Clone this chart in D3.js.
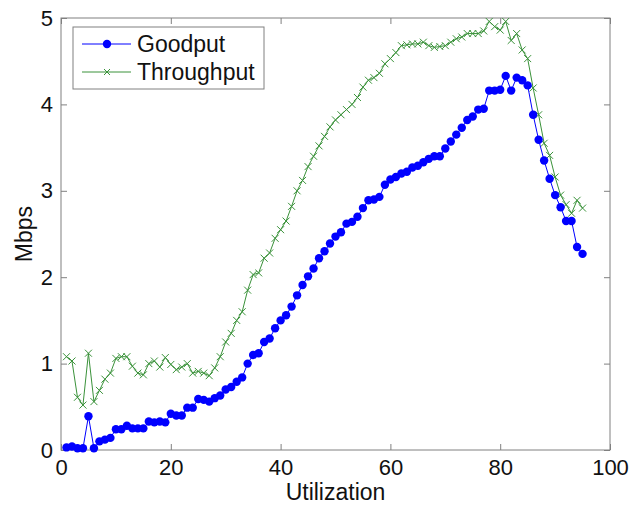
<!DOCTYPE html>
<html><head><meta charset="utf-8">
<script src="https://cdn.jsdelivr.net/npm/d3@7"></script>
<style>body{margin:0;background:#fff}svg{display:block}text{font-family:"Liberation Sans",Arial,sans-serif;fill:#111}</style>
</head><body><svg id="c" width="630" height="506"></svg>
<script>
const utilization = d3.range(1, 96);
const goodput = [0.03,0.04,0.02,0.02,0.39,0.02,0.10,0.12,0.14,0.24,
0.24,0.28,0.25,0.25,0.25,0.33,0.32,0.33,0.32,0.42,
0.40,0.40,0.49,0.49,0.59,0.58,0.56,0.60,0.63,0.70,
0.73,0.79,0.84,1.00,1.10,1.12,1.25,1.29,1.41,1.50,
1.56,1.66,1.79,1.91,2.01,2.10,2.22,2.30,2.39,2.47,
2.52,2.62,2.64,2.70,2.80,2.89,2.90,2.93,3.07,3.13,
3.16,3.20,3.22,3.27,3.29,3.33,3.37,3.40,3.40,3.49,
3.57,3.65,3.73,3.82,3.86,3.94,3.95,4.16,4.16,4.17,
4.33,4.16,4.31,4.28,4.22,3.88,3.59,3.35,3.14,2.95,
2.81,2.65,2.65,2.35,2.27];
const throughput = [1.08,1.03,0.61,0.52,1.12,0.56,0.69,0.82,0.89,1.06,
1.08,1.08,0.97,0.89,0.87,1.00,1.03,0.96,1.07,0.99,
0.93,0.96,1.00,0.89,0.91,0.89,0.86,0.95,1.08,1.25,
1.35,1.50,1.60,1.85,2.03,2.05,2.22,2.28,2.45,2.55,
2.65,2.82,3.00,3.12,3.28,3.40,3.52,3.63,3.74,3.82,
3.88,3.94,4.00,4.08,4.20,4.28,4.31,4.36,4.47,4.53,
4.60,4.68,4.69,4.70,4.70,4.72,4.68,4.66,4.67,4.68,
4.72,4.76,4.78,4.82,4.82,4.82,4.85,4.96,4.90,4.86,
4.96,4.74,4.82,4.63,4.53,4.19,3.88,3.55,3.41,3.16,
2.95,2.84,2.74,2.89,2.80];
const xTicks = [0,20,40,60,80,100];
const yTicks = [0,1,2,3,4,5];
const seriesNames = ["Goodput","Throughput"];

const svg = d3.select("#c");
const L=61, R=610, T=18, B=450;
const x = d3.scaleLinear().domain([0,100]).range([L,R]);
const y = d3.scaleLinear().domain([0,5]).range([B,T]);
const frame = "#808080", blue="#0000ff", green="#3a923a";

const fs = 22;
const ax = svg.append("g");
ax.append("g").attr("transform",`translate(0,${B})`)
  .call(d3.axisBottom(x).tickValues(xTicks).tickSize(-6).tickPadding(9).tickFormat(d3.format("d")));
ax.append("g").attr("transform",`translate(0,${T})`)
  .call(d3.axisTop(x).tickValues(xTicks).tickSize(-6).tickFormat(""));
ax.append("g").attr("transform",`translate(${L},0)`)
  .call(d3.axisLeft(y).tickValues(yTicks).tickSize(-6).tickPadding(8).tickFormat(d3.format("d")));
ax.append("g").attr("transform",`translate(${R},0)`)
  .call(d3.axisRight(y).tickValues(yTicks).tickSize(-6).tickFormat(""));
ax.selectAll(".domain").remove();
ax.selectAll(".tick line").attr("stroke",frame);
ax.selectAll(".tick text").attr("font-size",fs).attr("font-family","Liberation Sans, Arial, sans-serif").attr("fill","#111");
svg.append("rect").attr("x",L).attr("y",T).attr("width",R-L).attr("height",B-T)
  .attr("fill","none").attr("stroke",frame).attr("stroke-width",1);

svg.append("text").attr("x",(L+R)/2).attr("y",500).attr("text-anchor","middle").attr("font-size",23).text("Utilization");
svg.append("text").attr("transform",`translate(32,${(T+B)/2}) rotate(-90)`).attr("text-anchor","middle").attr("font-size",23).text("Mbps");

const line = d3.line().x((d,i)=>x(utilization[i])).y(d=>y(d));
const xMark = (g, cx, cy, s) => g.append("path").attr("d",`M${cx-s},${cy-s}L${cx+s},${cy+s}M${cx-s},${cy+s}L${cx+s},${cy-s}`)
  .attr("stroke",green).attr("stroke-width",1).attr("fill","none");

svg.append("path").datum(throughput).attr("d",line).attr("fill","none").attr("stroke",green).attr("stroke-width",1);
const tg = svg.append("g");
throughput.forEach((d,i)=>xMark(tg, x(utilization[i]), y(d), 3.5));
svg.append("path").datum(goodput).attr("d",line).attr("fill","none").attr("stroke",blue).attr("stroke-width",1);
svg.append("g").selectAll("circle").data(goodput).join("circle")
  .attr("cx",(d,i)=>x(utilization[i])).attr("cy",d=>y(d)).attr("r",4.2).attr("fill",blue);

const lg = svg.append("g");
lg.append("rect").attr("x",73).attr("y",27).attr("width",191).attr("height",62).attr("fill","#fff").attr("stroke",frame);
lg.append("line").attr("x1",82).attr("x2",131).attr("y1",44).attr("y2",44).attr("stroke",blue);
lg.append("circle").attr("cx",107).attr("cy",44).attr("r",4.2).attr("fill",blue);
lg.append("text").attr("x",137).attr("y",52).attr("font-size",23).text(seriesNames[0]);
lg.append("line").attr("x1",82).attr("x2",131).attr("y1",72).attr("y2",72).attr("stroke",green);
xMark(lg,107,72,3);
lg.append("text").attr("x",137).attr("y",80).attr("font-size",23).text(seriesNames[1]);
</script></body></html>
